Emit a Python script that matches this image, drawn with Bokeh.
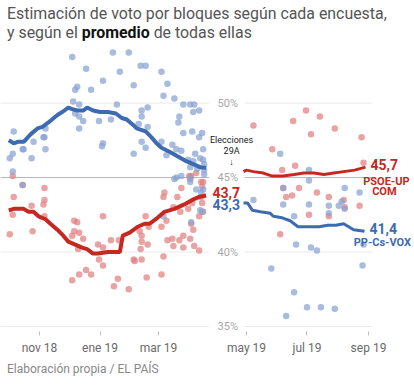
import pandas as pd
from bokeh.plotting import figure
from bokeh.models import Range1d, FixedTicker, ColumnDataSource, Label, Div
from bokeh.layouts import column, row
from bokeh.embed import file_html
from bokeh.resources import INLINE
from bokeh.core.properties import value

# ---------------- data ----------------
# Left panel: polls before the 28-A election
lb_dates = ["2018-12-04","2018-12-18","2019-01-04","2018-12-07","2018-12-09","2018-12-23","2018-12-05","2018-12-11",
            "2018-12-07","2018-12-11","2018-12-15","2018-12-31","2018-12-11","2018-10-06","2018-11-07","2018-11-05",
            "2018-11-06","2018-10-26","2018-10-02","2018-10-05","2018-10-16","2018-10-15","2018-11-07","2018-10-24",
            "2019-01-04","2019-01-03","2018-10-05","2019-01-14","2019-01-30","2019-02-11","2019-02-16","2019-01-21",
            "2019-03-04","2019-02-04","2019-03-10","2019-03-06","2019-03-17","2019-03-26","2019-04-02","2019-04-06",
            "2019-01-18","2019-02-18","2019-02-12","2019-04-05","2019-04-11","2019-02-12","2019-03-22","2019-01-12",
            "2019-03-21","2019-02-09","2019-02-18","2019-03-26","2019-04-04","2019-04-14","2019-04-11","2019-02-12",
            "2019-03-04","2019-02-16","2019-03-15","2019-03-19","2019-03-24","2019-03-09","2019-02-04","2019-04-15",
            "2019-04-07","2019-03-31","2019-04-05","2019-04-12","2019-04-15","2019-04-16","2019-04-16","2019-04-16",
            "2019-04-09","2019-04-02","2019-03-17","2019-03-19","2019-03-24","2019-04-02","2019-04-02","2019-04-08",
            "2019-04-13","2019-04-15","2019-03-06","2019-04-03","2019-04-12","2019-04-14","2018-10-15"]
lb_vals = [53.1,52.3,51.5,50.9,51.1,50.9,50.1,49.9,
           49.3,49.1,48.8,48.8,48.3,48.1,48.3,47.7,
           47.7,47.4,46.3,46.6,46.9,46.9,46.9,46.3,
           47.3,47.1,45.4,53.4,53.4,52.5,52.5,52.1,
           52.1,51.2,51.3,50.5,50.3,49.9,49.9,49.9,
           49.9,49.7,49.5,49.4,49.5,49.1,49.1,48.9,
           48.7,48.6,48.4,48.0,48.1,48.0,47.7,47.4,
           47.4,47.0,47.2,46.9,46.8,46.5,46.6,46.9,
           46.6,46.2,46.1,46.3,46.2,45.9,45.5,45.2,
           45.6,45.7,44.9,45.0,45.1,45.0,44.7,44.2,
           44.0,44.2,42.4,42.0,42.8,42.7,44.5]
lr_dates = ["2018-10-05","2018-10-15","2018-10-06","2018-11-06","2018-11-06","2018-11-05","2018-10-24","2018-10-05",
            "2018-11-06","2018-10-02","2018-10-25","2019-01-04","2018-12-06","2018-12-09","2018-12-06","2018-12-11",
            "2018-12-04","2018-12-15","2018-12-10","2018-12-30","2019-01-04","2018-12-31","2019-01-04","2018-12-18",
            "2018-12-23","2018-12-11","2018-12-04","2019-01-12","2019-01-20","2019-01-15","2019-01-19","2019-01-30",
            "2019-02-04","2019-02-05","2019-02-12","2019-02-17","2019-03-04","2019-02-11","2019-02-18","2019-02-12",
            "2019-02-12","2019-02-10","2019-02-16","2019-02-19","2019-03-04","2019-03-09","2019-03-06","2019-03-10",
            "2019-03-15","2019-03-16","2019-03-22","2019-03-26","2019-03-26","2019-04-02","2019-04-06","2019-04-11",
            "2019-03-06","2019-03-07","2019-03-20","2019-03-24","2019-03-23","2019-03-16","2019-03-31","2019-04-04",
            "2019-04-03","2019-04-05","2019-04-11","2019-04-15","2019-04-14","2019-04-13","2019-04-13","2019-04-14",
            "2019-04-08","2019-04-01","2019-04-03","2019-04-02","2019-04-15"]
lr_vals = [45.1,44.5,43.7,44.3,43.5,43.2,43.1,42.5,
           42.4,41.2,41.4,42.4,42.1,42.0,41.4,41.3,
           41.1,40.9,40.2,40.5,40.3,39.5,39.1,38.8,
           38.5,38.5,38.1,40.8,40.8,37.7,38.2,37.5,
           39.5,39.4,39.5,38.3,38.5,40.2,40.5,40.7,
           41.1,41.4,42.4,41.7,41.7,42.1,39.7,40.8,
           40.9,40.4,40.8,41.1,40.3,40.9,40.4,40.1,
           43.7,44.0,43.7,44.3,42.7,43.0,42.9,43.3,
           41.9,41.5,42.4,42.7,43.3,43.7,44.7,44.4,
           45.3,45.1,45.1,44.9,44.7]

# Left panel averages
lb_avg_dates = ["2018-10-01","2018-10-06","2018-10-10","2018-10-16","2018-10-23","2018-10-30","2018-11-04","2018-11-10",
                "2018-11-19","2018-11-24","2018-11-30","2018-12-04","2018-12-09","2018-12-15","2018-12-19","2018-12-25",
                "2019-01-01","2019-01-09","2019-01-17","2019-01-23","2019-01-28","2019-02-04","2019-02-07","2019-02-16",
                "2019-02-22","2019-02-27","2019-03-04","2019-03-13","2019-03-21","2019-03-29","2019-04-05","2019-04-12",
                "2019-04-18"]
lb_avg_vals = [47.5,47.3,47.4,47.4,47.9,48.3,48.4,48.7,
               49.2,49.4,49.7,49.6,49.5,49.5,49.7,49.5,
               49.4,49.4,49.3,49.0,48.9,48.5,48.3,48.1,
               47.7,47.3,47.0,46.7,46.4,46.1,45.9,45.7,
               45.65]
lr_avg_dates = ["2018-10-01","2018-10-06","2018-10-16","2018-10-21","2018-10-26","2018-10-31","2018-11-07","2018-11-12",
                "2018-11-19","2018-11-25","2018-11-30","2018-12-07","2018-12-14","2018-12-19","2018-12-25","2018-12-30",
                "2019-01-09","2019-01-21","2019-01-24","2019-01-31","2019-02-08","2019-02-15","2019-02-20","2019-02-28",
                "2019-03-07","2019-03-17","2019-03-27","2019-04-04","2019-04-11","2019-04-18"]
lr_avg_vals = [42.8,42.9,42.9,42.7,42.7,42.4,42.2,41.9,
               41.5,41.1,40.7,40.5,40.3,40.2,39.9,39.9,
               40.0,40.0,41.1,41.3,41.7,41.9,41.9,42.3,
               42.7,42.9,43.2,43.5,43.7,43.8]

# Right panel: polls after the election
rb_dates = ["2019-06-04","2019-07-03","2019-07-03","2019-06-07","2019-08-08","2019-08-23","2019-05-08","2019-06-07",
            "2019-07-03","2019-07-23","2019-08-02","2019-08-05","2019-08-08","2019-06-18","2019-07-23","2019-06-20",
            "2019-07-05","2019-07-11","2019-05-26","2019-08-27","2019-08-26","2019-06-18","2019-07-01","2019-07-15",
            "2019-07-29","2019-06-10"]
rb_vals = [46.6,45.5,44.8,44.3,44.3,44.0,43.5,43.2,
           43.2,43.1,43.1,43.4,42.9,42.4,42.6,40.5,
           40.3,40.1,38.9,40.5,39.1,37.3,36.3,36.3,
           36.2,35.7]
rr_dates = ["2019-05-08","2019-06-17","2019-06-30","2019-07-14","2019-07-29","2019-07-05","2019-08-25","2019-05-27",
            "2019-06-19","2019-08-27","2019-06-06","2019-06-23","2019-06-16","2019-06-10","2019-07-11","2019-07-23",
            "2019-08-07","2019-08-23","2019-07-03","2019-07-23","2019-06-04","2019-08-08","2019-06-07"]
rr_vals = [48.5,48.8,49.5,49.1,48.3,47.9,47.7,46.9,
           45.8,46.0,45.5,44.3,43.8,43.7,44.0,43.7,
           43.5,43.1,42.5,42.4,41.2,43.0,44.3]

# Right panel averages
rr_avg_dates = ["2019-04-28","2019-05-01","2019-05-08","2019-05-18","2019-05-27","2019-06-07","2019-06-18","2019-06-28",
                "2019-07-08","2019-07-18","2019-07-28","2019-08-07","2019-08-18","2019-08-29"]
rr_avg_vals = [45.4,45.5,45.4,45.3,45.1,45.1,45.2,45.3,
               45.3,45.2,45.3,45.4,45.5,45.7]
rb_avg_dates = ["2019-04-28","2019-05-02","2019-05-07","2019-05-15","2019-05-25","2019-05-28","2019-06-06","2019-06-14",
                "2019-06-22","2019-07-05","2019-07-13","2019-07-22","2019-07-30","2019-08-07","2019-08-17","2019-08-28"]
rb_avg_vals = [43.3,43.3,42.8,42.7,42.6,42.4,42.3,42.1,
               41.7,41.7,41.7,41.8,41.8,41.9,41.5,41.4]

# Axis ticks / labels
left_ticks = ["2018-11-01", "2019-01-01", "2019-03-01"]
left_tick_labels = ["nov 18", "ene 19", "mar 19"]
right_ticks = ["2019-05-01", "2019-07-01", "2019-09-01"]
right_tick_labels = ["may 19", "jul 19", "sep 19"]
y_ticks = [35, 40, 45, 50]
y_tick_labels = ["35%", "40%", "45%", "50%"]

# ---------------- style ----------------
BLUE_LINE = "#3c6bb2"
RED_LINE = "#c62720"
BLUE_DOT = "#86a2d2"
RED_DOT = "#e17f7f"
FONT = "Roboto"

def ms(d):
    return pd.Timestamp(d).value / 1e6

def ts(lst):
    return pd.to_datetime(lst)

Y0, Y1 = 34.667, 54.067
L_START = pd.Timestamp("2018-09-22 16:00")
L_END = pd.Timestamp("2019-04-21 10:00")
R_START = pd.Timestamp("2019-03-24 17:00")
R_END = pd.Timestamp("2019-10-17 09:00")

def style_xaxis(p, ticks, labels):
    ax = p.xaxis[0]
    tk = [ms(t) for t in ticks]
    ax.ticker = FixedTicker(ticks=tk)
    ax.major_label_overrides = {t: l for t, l in zip(tk, labels)}
    ax.axis_line_color = None
    ax.major_tick_in = 0
    ax.major_tick_out = 4
    ax.major_tick_line_color = "#c0c0c0"
    ax.minor_tick_line_color = None
    ax.major_label_text_font = FONT
    ax.major_label_text_font_size = "12px"
    ax.major_label_text_color = "#6a6a6a"
    ax.major_label_standoff = 5

def base_fig(width, xr):
    p = figure(width=width, height=315, x_axis_type="datetime", x_range=Range1d(*xr),
               y_range=Range1d(Y0, Y1), y_axis_location=None,
               output_backend="svg", toolbar_location=None,
               min_border_left=0, min_border_right=0, min_border_top=0, min_border_bottom=24)
    p.outline_line_color = None
    p.background_fill_color = None
    p.border_fill_color = None
    p.grid.grid_line_color = None
    return p

def add_label(p, x, y, text, color, size, bold=True, align="left"):
    p.add_layout(Label(x=ms(x), y=y, text=text, text_color=color, text_font=FONT,
                       text_font_size=size, text_font_style="bold" if bold else "normal",
                       text_align=align, text_baseline="middle"))

def gridlines(p, x0, x1):
    faint = [t for t in y_ticks if t != 45]
    n = len(faint)
    p.segment(x0=ts([x0] * n), x1=ts([x1] * n), y0=faint, y1=faint, line_color="#ebebeb", line_width=1)
    p.segment(x0=ts([x0]), x1=ts([x1]), y0=[45], y1=[45], line_color="#b5b5b5", line_width=1)

# ---------------- left figure: before the election ----------------
p1 = base_fig(209, (L_START, L_END))
style_xaxis(p1, left_ticks, left_tick_labels)
gridlines(p1, L_START, L_END)

p1.scatter(ts(lr_dates), lr_vals, size=6.5, fill_color=RED_DOT, fill_alpha=0.72, line_color=None)
p1.scatter(ts(lb_dates), lb_vals, size=6.5, fill_color=BLUE_DOT, fill_alpha=0.72, line_color=None)
p1.line(ts(lr_avg_dates), lr_avg_vals, line_color=RED_LINE, line_width=4)
p1.line(ts(lb_avg_dates), lb_avg_vals, line_color=BLUE_LINE, line_width=4)

# ---------------- right figure: after the election (gap labels live here) ----------------
p2 = base_fig(205, (R_START, R_END))
style_xaxis(p2, right_ticks, right_tick_labels)
gridlines(p2, "2019-04-29", "2019-09-05")

# y tick labels in the gap between both panels
ysrc = ColumnDataSource(dict(x=ts(["2019-04-01 19:00"] * len(y_ticks)), y=y_ticks, t=y_tick_labels))
p2.text(x="x", y="y", text="t", source=ysrc, text_font=value(FONT), text_font_size="11px",
        text_color="#a8a8a8", text_align="left", text_baseline="middle")

p2.scatter(ts(rr_dates), rr_vals, size=6.5, fill_color=RED_DOT, fill_alpha=0.72, line_color=None)
p2.scatter(ts(rb_dates), rb_vals, size=6.5, fill_color=BLUE_DOT, fill_alpha=0.72, line_color=None)
p2.line(ts(rr_avg_dates), rr_avg_vals, line_color=RED_LINE, line_width=3)
p2.line(ts(rb_avg_dates), rb_avg_vals, line_color=BLUE_LINE, line_width=3)

add_label(p2, "2019-03-27 17:00", 44.0, "43,7", RED_LINE, "14px")
add_label(p2, "2019-03-27 17:00", 43.17, "43,3", BLUE_LINE, "14px")
add_label(p2, "2019-04-16", 47.5, "Elecciones", "#222222", "9px", bold=False, align="center")
add_label(p2, "2019-04-16", 46.8, "29A", "#222222", "9px", bold=False, align="center")
add_label(p2, "2019-04-16", 46.07, "\u2193", "#222222", "9px", bold=False, align="center")

add_label(p2, "2019-09-03", 45.87, "45,7", RED_LINE, "14px")
add_label(p2, "2019-09-19", 44.73, "PSOE-UP", RED_LINE, "11px", align="center")
add_label(p2, "2019-09-17", 44.07, "COM", RED_LINE, "11px", align="center")
add_label(p2, "2019-09-02", 41.6, "41,4", BLUE_LINE, "14px")
add_label(p2, "2019-09-15", 40.67, "PP-Cs-VOX", BLUE_LINE, "11px", align="center")

# ---------------- title / footer ----------------
title = Div(text="Estimación de voto por bloques según cada encuesta,<br>y según el "
                 "<b style='color:#111111'>promedio</b> de todas ellas",
            width=407, height=37, margin=(5, 0, 0, 7),
            styles={"font-family": FONT, "font-size": "15.9px", "line-height": "18.6px", "color": "#555555"})
footer = Div(text="Elaboración propia / EL PAÍS", width=407, height=14, margin=(5, 0, 0, 7),
             styles={"font-family": FONT, "font-size": "12px", "line-height": "14px", "color": "#888888"})

layout = column(title, row(p1, p2, spacing=0), footer, spacing=0)
open("out.html", "w").write(file_html(layout, INLINE))
